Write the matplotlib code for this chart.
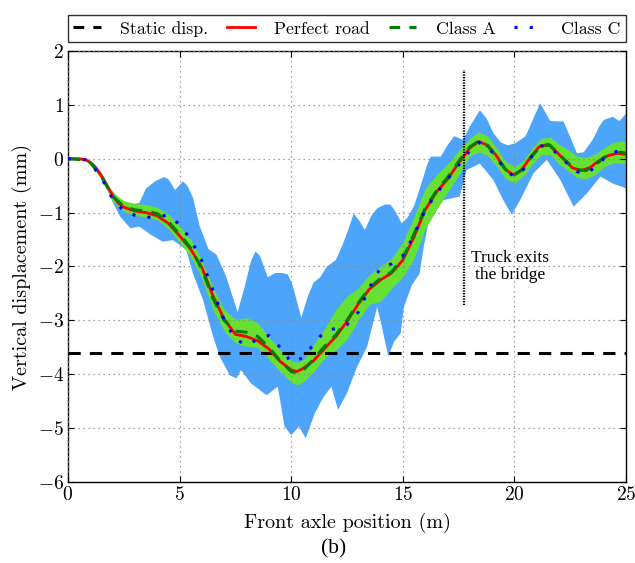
import numpy as np
import matplotlib
matplotlib.use("Agg")
import matplotlib.pyplot as plt
from matplotlib.lines import Line2D

plt.rcParams["font.family"] = ["cmr10", "DejaVu Serif"]
plt.rcParams["mathtext.fontset"] = "cm"
plt.rcParams["axes.formatter.use_mathtext"] = True

# Perfect road response
x_perfect = [0, 0.5, 0.8, 1.0, 1.25, 1.5, 1.75, 2.0, 2.25, 2.5, 3.0, 3.5, 4.0, 4.5,
             5.0, 5.5, 6.0, 6.5, 7.0, 7.5, 8.0, 8.5, 9.0, 9.5, 10.0, 10.25, 10.5,
             11.0, 11.5, 12.0, 12.5, 13.0, 13.5, 14.0, 14.5, 15.0, 15.5, 16.0, 16.5,
             17.0, 17.5, 18.0, 18.4, 18.8, 19.2, 19.6, 19.95, 20.3, 20.7, 21.1, 21.5,
             21.9, 22.3, 22.6, 23.0, 23.4, 23.8, 24.2, 24.6, 25.0]
y_perfect = [0, 0, -0.02, -0.07, -0.17, -0.32, -0.5, -0.68, -0.82, -0.9, -0.97, -1.0,
             -1.06, -1.2, -1.43, -1.68, -2.02, -2.55, -2.98, -3.26, -3.3, -3.38, -3.53,
             -3.76, -3.92, -3.95, -3.9, -3.75, -3.52, -3.3, -3.02, -2.7, -2.42, -2.25,
             -2.12, -1.88, -1.45, -0.95, -0.62, -0.38, -0.08, 0.2, 0.32, 0.25, 0.05,
             -0.2, -0.3, -0.22, 0.02, 0.22, 0.27, 0.12, -0.05, -0.17, -0.22, -0.16,
             -0.03, 0.06, 0.1, 0.08]

# Class A: mean and band
x_class_a = [0, 0.8, 1.0, 1.5, 2.0, 2.5, 3.0, 3.5, 4.0, 4.5, 5.0, 5.5, 6.0, 6.5, 7.0,
             7.5, 8.0, 8.5, 9.0, 9.5, 10.0, 10.3, 10.6, 11.0, 11.5, 12.0, 12.5, 13.0,
             13.5, 14.0, 14.5, 15.0, 15.5, 16.0, 16.5, 17.0, 17.5, 18.0, 18.4, 18.8,
             19.2, 19.6, 20.0, 20.4, 20.8, 21.2, 21.6, 22.0, 22.4, 22.8, 23.2, 23.6,
             24.0, 24.4, 24.8, 25.0]
y_class_a = [0, -0.02, -0.07, -0.33, -0.7, -0.88, -0.95, -0.97, -1.02, -1.17, -1.4,
             -1.66, -2.05, -2.6, -3.0, -3.2, -3.22, -3.3, -3.5, -3.75, -3.95, -3.98,
             -3.9, -3.72, -3.48, -3.27, -3.0, -2.68, -2.4, -2.22, -2.1, -1.85, -1.4,
             -0.92, -0.6, -0.35, -0.05, 0.22, 0.33, 0.24, 0.03, -0.2, -0.3, -0.18,
             0.06, 0.24, 0.25, 0.08, -0.08, -0.2, -0.22, -0.12, 0.02, 0.1, 0.12, 0.1]
a_upper = [0, 0, -0.05, -0.28, -0.62, -0.78, -0.83, -0.85, -0.9, -1.03, -1.25, -1.5,
           -1.88, -2.4, -2.8, -2.98, -2.95, -3.05, -3.3, -3.55, -3.75, -3.78, -3.7,
           -3.45, -3.15, -2.8, -2.55, -2.4, -2.15, -2.0, -1.85, -1.55, -1.08, -0.55,
           -0.3, -0.1, 0.15, 0.38, 0.5, 0.42, 0.2, -0.05, -0.15, -0.03, 0.2, 0.38,
           0.4, 0.27, 0.17, 0.05, 0.02, 0.08, 0.2, 0.3, 0.33, 0.3]
a_lower = [0, -0.03, -0.1, -0.38, -0.78, -0.98, -1.05, -1.08, -1.13, -1.3, -1.55,
           -1.82, -2.22, -2.8, -3.2, -3.42, -3.48, -3.5, -3.72, -3.95, -4.15, -4.2,
           -4.12, -3.95, -3.7, -3.55, -3.35, -3.0, -2.7, -2.65, -2.4, -2.2, -1.85,
           -1.3, -0.95, -0.62, -0.3, 0.05, 0.13, 0.06, -0.14, -0.37, -0.45, -0.32,
           -0.1, 0.08, 0.08, -0.1, -0.22, -0.35, -0.37, -0.3, -0.15, -0.08, -0.08,
           -0.1]

# Class C: mean and band
x_class_c = [0, 0.8, 1.0, 1.5, 2.0, 2.5, 3.0, 3.5, 4.0, 4.5, 5.0, 5.5, 6.0, 6.5, 7.0,
             7.5, 8.0, 8.5, 9.0, 9.5, 10.0, 10.5, 11.0, 11.5, 12.0, 12.5, 13.0, 13.5,
             14.0, 14.5, 15.0, 15.5, 16.0, 16.5, 17.0, 17.5, 18.0, 18.4, 18.8, 19.2,
             19.6, 20.0, 20.4, 20.8, 21.2, 21.6, 22.0, 22.4, 22.8, 23.2, 23.6, 24.0,
             24.4, 24.8, 25.0]
y_class_c = [0, -0.02, -0.08, -0.35, -0.75, -0.97, -1.05, -1.09, -1.07, -1.05, -1.22,
             -1.5, -1.9, -2.45, -3.0, -3.35, -3.46, -3.35, -3.28, -3.5, -3.78, -3.7,
             -3.45, -3.2, -3.15, -3.08, -2.85, -2.4, -2.02, -1.95, -1.8, -1.42, -0.95,
             -0.65, -0.38, -0.12, 0.15, 0.3, 0.22, 0.02, -0.22, -0.33, -0.2, 0.06,
             0.24, 0.22, 0.05, -0.1, -0.24, -0.28, -0.16, 0.0, 0.12, 0.15, 0.1]
x_c_upper = [0, 0.8, 1.2, 1.5, 1.9, 2.3, 2.8, 3.2, 3.5, 3.9, 4.3, 4.5, 4.8, 5.15, 5.35,
             5.6, 5.9, 6.3, 6.65, 7.1, 7.6, 7.9, 8.2, 8.4, 8.6, 8.95, 9.3, 9.6, 9.85,
             10.05, 10.45, 10.75, 11.0, 11.3, 11.6, 12.0, 12.3, 12.5, 12.8, 13.05,
             13.3, 13.6, 13.85, 14.2, 14.45, 14.7, 14.95, 15.2, 15.5, 15.8, 16.1,
             16.25, 16.7, 17.0, 17.3, 17.7, 18.0, 18.45, 18.75, 19.05, 19.4, 19.7,
             20.05, 20.5, 20.85, 21.15, 21.4, 21.6, 22.2, 22.5, 22.8, 23.1, 23.5,
             23.8, 24.0, 24.4, 24.7, 25.0]
y_c_upper = [0, 0, -0.1, -0.25, -0.55, -0.75, -0.85, -0.82, -0.55, -0.42, -0.34, -0.38,
             -0.58, -0.42, -0.5, -0.72, -1.25, -1.68, -1.78, -2.2, -2.85, -2.4, -1.9,
             -1.72, -1.8, -2.2, -2.12, -2.12, -2.15, -2.33, -2.95, -2.55, -2.3, -2.2,
             -2.0, -1.88, -1.6, -1.38, -1.02, -1.15, -1.32, -1.05, -0.92, -0.85, -0.85,
             -1.0, -1.2, -1.1, -0.88, -0.5, -0.1, 0.04, 0.04, 0.25, 0.42, 0.35, 0.6,
             0.9, 0.75, 0.48, 0.3, 0.25, 0.29, 0.42, 0.75, 1.03, 0.85, 0.7, 0.69, 0.4,
             0.1, 0.12, 0.35, 0.6, 0.72, 0.78, 0.7, 0.84]
x_c_lower = [0, 0.8, 1.2, 1.7, 2.0, 2.35, 2.8, 3.2, 3.75, 4.25, 4.7, 5.3, 5.6, 6.05,
             6.5, 6.8, 7.25, 7.55, 7.75, 8.2, 8.9, 9.4, 9.7, 10.0, 10.35, 10.65, 11.05,
             11.45, 11.8, 12.1, 12.5, 12.95, 13.4, 13.85, 14.05, 14.35, 14.6, 14.9,
             15.05, 15.4, 15.75, 15.95, 16.2, 16.8, 17.55, 17.85, 18.45, 19.05, 19.5,
             19.88, 20.25, 20.85, 21.45, 22.05, 22.65, 23.25, 23.85, 24.4, 25.0]
y_c_lower = [0, 0, -0.12, -0.52, -0.8, -1.08, -1.29, -1.26, -1.42, -1.54, -1.51, -1.69,
             -2.13, -2.62, -3.3, -3.67, -4.02, -4.08, -3.92, -4.17, -4.39, -4.23, -4.97,
             -5.13, -4.97, -5.19, -4.73, -4.42, -4.23, -4.66, -4.35, -3.86, -3.49,
             -2.75, -3.1, -3.67, -3.4, -3.24, -2.75, -2.35, -2.13, -1.6, -1.08, -0.77,
             -0.7, -0.21, -0.09, -0.39, -0.77, -1.04, -0.77, -0.27, -0.02, -0.39,
             -0.89, -0.64, -0.33, -0.46, -0.55]

static_disp = -3.6
exit_position = 17.75
exit_span = (-2.72, 1.65)

fig = plt.figure(figsize=(6.35, 5.63), dpi=100)
ax = fig.add_axes([0.107, 0.1439, 0.879, 0.7655])

# Class C envelope
ax.fill(np.concatenate([x_c_upper, x_c_lower[::-1]]),
        np.concatenate([y_c_upper, y_c_lower[::-1]]),
        color="#4ca5fa", lw=0, zorder=1)
# Class A envelope
ax.fill_between(x_class_a, a_lower, a_upper, color="#66e033", lw=0, zorder=2)

ax.axhline(static_disp, color="black", ls=(0, (4, 3)), lw=2.2, zorder=3)
ax.plot(x_perfect, y_perfect, color="red", lw=2.0, zorder=4)
ax.plot(x_class_a, y_class_a, color="#007f00", lw=2.2, ls=(0, (4, 3)), zorder=5)
ax.plot(x_class_c, y_class_c, color="blue", lw=2.2, ls=(0, (1, 4)), zorder=6)

ax.plot([exit_position, exit_position], exit_span, color="black", lw=1.6,
        ls=(0, (0.6, 0.6)), zorder=7)
ax.text(exit_position + 0.3, -2.0, "Truck exits\nthe bridge", ha="left", va="center",
        multialignment="center", fontsize=12.5, family="Liberation Serif",
        linespacing=1.05, zorder=8)

ax.set_xlim(0, 25)
ax.set_ylim(-6, 2)
ax.set_xticks([0, 5, 10, 15, 20, 25])
ax.set_yticks([-6, -5, -4, -3, -2, -1, 0, 1, 2])
ax.grid(True, color="#888888", ls=(0, (1, 3)), lw=0.9)
ax.set_axisbelow(False)
ax.tick_params(direction="in", top=True, right=True, labelsize=14, length=4,
               width=0.8)
ax.tick_params(axis="x", pad=3)
ax.tick_params(axis="y", pad=3)
for s in ax.spines.values():
    s.set_linewidth(1.0)

ax.set_xlabel("Front axle position (m)", fontsize=14.5, labelpad=6)
ax.set_ylabel("Vertical displacement (mm)", fontsize=14.5, labelpad=4)

handles = [
    Line2D([], [], color="black", lw=2.2, ls=(0, (3.5, 3))),
    Line2D([], [], color="red", lw=2.0),
    Line2D([], [], color="#007f00", lw=2.2, ls=(0, (3.5, 3))),
    Line2D([], [], color="blue", lw=2.2, ls=(0, (1, 4))),
]
labels = ["Static disp.", "Perfect road", "Class A", "Class C"]
leg = ax.legend(handles, labels, loc="lower left", bbox_to_anchor=(0, 1.021, 1, 0.07),
                mode="expand", ncol=4, fontsize=12.8, frameon=True, fancybox=False,
                borderaxespad=0, handlelength=1.55, handletextpad=1.1,
                columnspacing=1.2, borderpad=0.3)
leg.get_frame().set_edgecolor("black")
leg.get_frame().set_linewidth(1.0)

fig.text(0.525, 0.025, "(b)", ha="center", va="center", fontsize=15.5,
         family="Liberation Serif")

fig.savefig("out.png", dpi=100)
